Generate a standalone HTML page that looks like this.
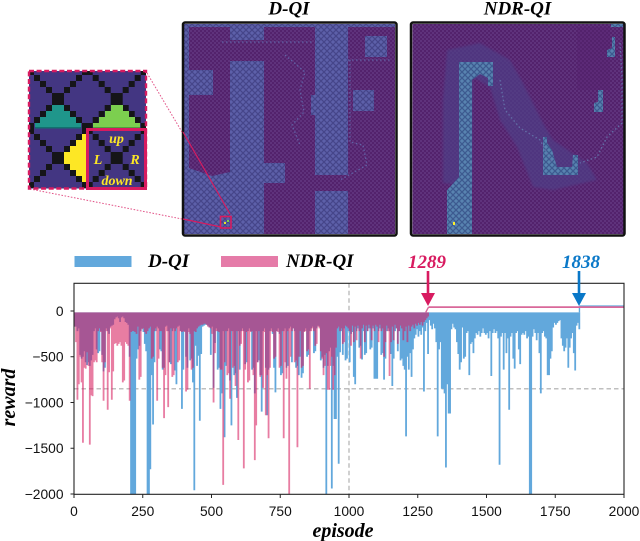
<!DOCTYPE html>
<html lang="en">
<head>
<meta charset="utf-8">
<title>D-QI vs NDR-QI</title>
<style>
html,body{margin:0;padding:0;background:#fff;width:640px;height:541px;overflow:hidden}
svg{display:block}
.lab{font-family:"Liberation Serif",serif;font-weight:bold;font-style:italic}
.tick{font-family:"Liberation Sans",sans-serif;font-size:13.8px;fill:#111}
</style>
</head>
<body>
<svg id="root" xmlns="http://www.w3.org/2000/svg" width="640" height="541" viewBox="0 0 640 541">
<defs>
<pattern id="pLight" width="6" height="6" patternUnits="userSpaceOnUse"><rect width="6" height="6" fill="#5d60a9"/><path d="M0 0L6 6M6 0L0 6" stroke="#45458a" stroke-width="1.25"/></pattern>
<pattern id="pDark" width="4" height="4" patternUnits="userSpaceOnUse"><rect width="4" height="4" fill="#53226c"/><rect width="2" height="2" fill="#5f317b"/><rect x="2" y="2" width="2" height="2" fill="#5f317b"/></pattern>
<pattern id="pMid" width="4" height="4" patternUnits="userSpaceOnUse"><rect width="4" height="4" fill="#4a3480"/><rect width="2" height="2" fill="#55468e"/><rect x="2" y="2" width="2" height="2" fill="#55468e"/></pattern>
<pattern id="pTeal" width="6" height="6" patternUnits="userSpaceOnUse"><rect width="6" height="6" fill="#5883b0"/><path d="M0 0L6 6M6 0L0 6" stroke="#3d5a90" stroke-width="1.3"/></pattern>
<clipPath id="plotClip"><rect x="74" y="283.3" width="550" height="211"/></clipPath>
<clipPath id="insetClip"><rect x="29" y="71" width="117" height="117.5"/></clipPath>
<clipPath id="hm1"><rect x="184" y="24" width="211" height="210"/></clipPath>
<clipPath id="hm2"><rect x="412.5" y="24" width="211" height="210"/></clipPath>
<filter id="soft" x="-2%" y="-2%" width="104%" height="104%"><feGaussianBlur stdDeviation="0.3"/></filter>
<filter id="softer" x="-2%" y="-2%" width="104%" height="104%"><feGaussianBlur stdDeviation="0.35"/></filter>
<filter id="halo" x="-5%" y="-5%" width="110%" height="110%"><feGaussianBlur stdDeviation="1.4"/></filter>
</defs>

<!-- Panel titles -->
<text class="lab" x="289" y="14.5" font-size="19" text-anchor="middle">D-QI</text>
<text class="lab" x="517.5" y="14.5" font-size="19" text-anchor="middle">NDR-QI</text>

<!-- D-QI heatmap -->
<g clip-path="url(#hm1)">
<g filter="url(#soft)">
  <rect x="182" y="22" width="215" height="214" fill="url(#pLight)"/>
  <path fill="url(#pDark)" d="M189 27H230V172L212 176L189 168Z"/>
  <rect x="264" y="27" width="51" height="209" fill="url(#pDark)"/>
  <rect x="230" y="40" width="34" height="21" fill="url(#pDark)"/>
  <rect x="348" y="27" width="49" height="209" fill="url(#pDark)"/>
  <rect x="315" y="175" width="33" height="16" fill="url(#pDark)"/>
  <rect x="186" y="70" width="27" height="25" fill="url(#pLight)"/>
  <rect x="264" y="163" width="21" height="20" fill="url(#pLight)"/>
  <rect x="311" y="95" width="6" height="20" fill="url(#pLight)"/>
  <rect x="365" y="36" width="22" height="21" fill="url(#pLight)"/>
  <rect x="353" y="90" width="21" height="21" fill="url(#pLight)"/>
  <path fill="none" stroke="#5f62a6" stroke-width="1.3" stroke-dasharray="1.5 2.5" d="M222 42H312M285 55L305 72L300 90L304 112L292 125L300 145M348 60H392M350 60L350 142L363 145L367 165L340 180"/>
</g>
</g>
<rect x="183" y="22.5" width="213.5" height="213" rx="2" fill="none" stroke="#111" stroke-width="2.5"/>

<!-- NDR-QI heatmap -->
<g clip-path="url(#hm2)">
<g filter="url(#soft)">
  <rect x="410" y="22" width="216" height="214" fill="url(#pDark)"/>
  <rect x="577" y="27" width="33" height="63" fill="#52226c" opacity=".3"/>
  <path filter="url(#halo)" opacity=".72" fill="url(#pMid)" d="M447 50L480 43L510 60L523 83L543 123L553 140L587 163L597 180L553 190L533 187L517 147L500 120L490 87L473 77L472 187L443 183L443 100Z"/>
  <path fill="url(#pTeal)" d="M459 62H493V86H488V78L480 74L472 80V236H447V190L459 177Z"/>
  <path fill="url(#pTeal)" d="M543 137H547V143L552 150L557 167H572L573 155H578V175H543Z"/>
  <path fill="url(#pTeal)" d="M612 37H615V57H607V50L612 48Z"/>
  <path fill="url(#pTeal)" d="M598 90H603V112H594V103L598 102Z"/>
  <rect x="611" y="23" width="12" height="4" fill="url(#pTeal)"/>
  <path fill="none" stroke="#6270a8" stroke-width="1.3" stroke-dasharray="1.5 2.5" d="M620 43L622 77L622 123L607 137L597 157L580 163M500 80L505 110L520 128L540 140L552 162"/>
  <rect x="453" y="222" width="2" height="3" fill="#fff02a"/>
</g>
</g>
<rect x="411" y="22.5" width="213.5" height="213" rx="2" fill="none" stroke="#111" stroke-width="2.5"/>

<!-- Inset -->
<g id="inset">
  <rect x="29" y="71" width="117" height="117.5" fill="#433682"/>
  <g clip-path="url(#insetClip)">
    <g id="lattice" fill="#151518"></g>
    <path fill="#1f968b" d="M52 105H64V111H70V117H76V123H81V128H35V123H40V117H46V111H52Z"/>
    <path fill="#7ccf4f" d="M111 105H123V111H129V117H135V123H140V128H93V123H99V117H105V111H111Z"/>
    <path fill="#fde725" d="M64 152H70V146H76V140H82V134H88V182H82V176H76V170H70V164H64Z"/>
    <rect x="35" y="127" width="46" height="1.5" fill="#12706f"/>
    <rect x="93" y="127" width="47" height="1.5" fill="#4f9e3f"/>
  </g>
  <rect x="29" y="71" width="117" height="117.5" fill="none" stroke="#d81b60" stroke-width="2.4" stroke-dasharray="5 2.6"/>
  <rect x="87.5" y="129.5" width="58" height="59" fill="none" stroke="#d81b60" stroke-width="3"/>
  <g class="lab" fill="#fde725" text-anchor="middle" font-size="14">
    <text x="116.5" y="143">up</text>
    <text x="98" y="164">L</text>
    <text x="135" y="164">R</text>
    <text x="117" y="185">down</text>
  </g>
</g>

<!-- Connectors -->
<g fill="none" stroke="#d81b60">
  <path d="M147 73L182 132M30 189L182 219" stroke-width="1" stroke-dasharray="1.6 1.6" opacity=".75"/>
  <path d="M183 132L230 214M183 219L221 227" stroke-width="1.2"/>
  <rect x="220.5" y="216.5" width="10.5" height="11.5" stroke-width="1.6"/>
</g>
<g><rect x="224" y="222" width="2" height="2" fill="#e8e32a"/><rect x="227" y="220" width="2" height="2" fill="#7ccf4f"/></g>

<!-- Legend -->
<g>
  <rect x="74.5" y="256" width="57" height="11" fill="#62a8dc"/>
  <text class="lab" x="148" y="267" font-size="19">D-QI</text>
  <rect x="221" y="256" width="57" height="11" fill="#e57ba8"/>
  <text class="lab" x="286" y="267" font-size="19">NDR-QI</text>
</g>

<!-- Chart -->
<g id="chart"></g>

<text class="lab" x="343" y="537" font-size="20" text-anchor="middle">episode</text>
<text class="lab" transform="translate(15 397.5) rotate(-90)" font-size="20" text-anchor="middle">reward</text>

<!-- Annotations -->
<g>
  <text class="lab" x="427" y="268" font-size="19" text-anchor="middle" fill="#d81b60">1289</text>
  <path d="M428 271V295" stroke="#d81b60" stroke-width="2.6"/>
  <path d="M421 293H435L428 306Z" fill="#d81b60"/>
</g>
<g>
  <text class="lab" x="581" y="268" font-size="19" text-anchor="middle" fill="#0a78c8">1838</text>
  <path d="M579 271V295" stroke="#0a78c8" stroke-width="2.6"/>
  <path d="M572 293H586L579 306Z" fill="#0a78c8"/>
</g>

<script>
// reward value per 5-episode bin (lowest reward reached in the bin)
var dqiRewards = [
-170,-170,-220,-190,-480,-520,-500,-440,-560,-590,-560,-600,-540,-480,-220,-190,-420,-460,-440,-220,
-480,-660,-620,-190,-220,-250,-170,-160,-150,-90,-70,-60,-80,-120,-70,-60,-80,-120,-130,-150,
-500,-2000,-2000,-2000,-2000,-520,-420,-380,-220,-190,-230,-360,-440,-2000,-2000,-1730,-700,-1240,-560,-220,
-170,-190,-420,-440,-640,-620,-170,-160,-220,-560,-580,-220,-190,-650,-800,-170,-160,-220,-1070,-640,
-220,-500,-620,-190,-540,-520,-780,-1960,-380,-600,-490,-1200,-470,-170,-160,-150,-150,-160,-180,-480,
-170,-840,-350,-190,-640,-620,-1070,-900,-220,-1380,-600,-220,-190,-760,-1250,-220,-700,-680,-950,-220,
-640,-220,-190,-220,-580,-560,-220,-190,-220,-640,-620,-900,-220,-560,-540,-700,-1100,-220,-190,-620,
-1140,-640,-220,-190,-250,-620,-890,-220,-190,-250,-700,-680,-220,-190,-620,-600,-190,-170,-560,-190,
-220,-620,-600,-700,-500,-730,-680,-220,-190,-500,-480,-220,-190,-170,-460,-440,-190,-160,-170,-540,
-500,-620,-480,-2000,-600,-440,-400,-1940,-600,-1180,-1180,-500,-1670,-450,-220,-480,-190,-540,-520,-220,
-560,-250,-230,-720,-800,-220,-190,-400,-380,-530,-220,-480,-460,-220,-190,-420,-400,-190,-740,-740,
-740,-220,-190,-480,-460,-750,-520,-220,-190,-220,-470,-820,-520,-220,-190,-440,-220,-540,-520,-600,
-640,-1370,-500,-640,-460,-720,-420,-300,-260,-200,-280,-220,-260,-180,-880,-220,-130,-470,-100,-160,
-200,-140,-190,-340,-1370,-420,-340,-850,-850,-900,-1710,-800,-1120,-1120,-200,-140,-180,-200,-340,-470,
-640,-560,-180,-520,-500,-240,-220,-700,-360,-340,-460,-300,-240,-260,-220,-280,-240,-190,-240,-260,
-240,-300,-220,-710,-240,-200,-240,-220,-300,-1680,-280,-240,-640,-240,-460,-300,-1080,-280,-240,-520,
-630,-240,-220,-420,-580,-260,-240,-260,-220,-300,-280,-2000,-2000,-280,-200,-240,-320,-240,-460,-900,
-240,-220,-280,-300,-700,-700,-520,-440,-180,-130,-150,-130,-110,-100,-300,-380,-440,-400,-300,-620,
-400,-300,-240,-460,-650,-160,-130,-200
];
var ndrRewards = [
-170,-340,-970,-800,-500,-780,-1440,-620,-630,-450,-600,-1460,-920,-930,-560,-540,-560,-220,-190,-230,
-560,-980,-560,-220,-1080,-670,-190,-970,-660,-360,-350,-380,-360,-340,-380,-780,-760,-340,-360,-380,
-980,-230,-220,-220,-230,-250,-170,-750,-720,-200,-190,-230,-250,-220,-190,-170,-520,-500,-220,-190,
-980,-520,-220,-220,-620,-1170,-700,-220,-1050,-560,-190,-720,-700,-220,-190,-560,-540,-220,-230,-220,
-230,-880,-860,-230,-250,-640,-620,-220,-230,-190,-170,-160,-150,-150,-140,-140,-150,-170,-180,-190,
-250,-1000,-460,-220,-220,-230,-640,-640,-1900,-560,-220,-700,-680,-960,-220,-620,-600,-820,-220,-1410,
-380,-360,-220,-1720,-640,-230,-780,-760,-230,-220,-700,-1630,-1250,-560,-220,-720,-700,-840,-230,-1140,
-700,-1390,-620,-220,-230,-520,-500,-220,-230,-620,-600,-220,-1390,-560,-740,-220,-2000,-500,-220,-190,
-560,-540,-1490,-500,-220,-620,-600,-230,-220,-440,-420,-850,-220,-190,-220,-380,-360,-170,-190,-440,
-520,-700,-600,-460,-860,-860,-600,-500,-860,-700,-400,-190,-170,-220,-190,-360,-340,-160,-170,-190,
-220,-380,-160,-340,-170,-320,-160,-220,-520,-190,-150,-340,-160,-220,-150,-190,-320,-160,-220,-150,
-170,-340,-150,-220,-190,-500,-340,-160,-220,-710,-340,-170,-320,-150,-190,-360,-220,-160,-190,-320,
-220,-170,-340,-160,-220,-170,-150,-190,-140,-160,-130,-150,-120,-160,-120,-100,-80,-60
];
var binSize = 5;
var upperReward = -15;
var dqiConvergedEpisode = 1838;
var ndrConvergedEpisode = 1289;
var dqiConvergedReward = 52;
var ndrConvergedReward = 42;
var xTickValues = [0, 250, 500, 750, 1000, 1250, 1500, 1750, 2000];
var yTickValues = [0, -500, -1000, -1500, -2000];
var referenceEpisode = 1000;
var referenceReward = -850;

var NS = 'http://www.w3.org/2000/svg';
function xScale(ep){ return 74 + ep * 0.275; }
function yScale(r){ return 311 - r * 0.0915; }
function make(tag, attrs, parent){
  var e = document.createElementNS(NS, tag);
  for (var k in attrs) e.setAttribute(k, attrs[k]);
  parent.appendChild(e);
  return e;
}
var chart = document.getElementById('chart');

var refH = make('line', {x1:74, x2:624, y1:yScale(referenceReward), y2:yScale(referenceReward), stroke:'#aaa', 'stroke-width':1.1, 'stroke-dasharray':'4.5 3'}, chart);


var refV = make('line', {x1:xScale(referenceEpisode), x2:xScale(referenceEpisode), y1:283.3, y2:494.3, stroke:'#aaa', 'stroke-width':1.1, 'stroke-dasharray':'4.5 3'}, chart);



function seriesPath(values){
  var d = '';
  for (var i = 0; i < values.length; i++){
    var x = xScale(i * binSize + binSize / 2).toFixed(2);
    d += 'M' + x + ' ' + yScale(upperReward).toFixed(1) + 'V' + yScale(values[i]).toFixed(1);
  }
  return d;
}
var plot = make('g', {'clip-path':'url(#plotClip)'}, chart);


var marks = make('g', {filter:'url(#softer)'}, plot);



var dqiBars = make('path', {d:seriesPath(dqiRewards), fill:'none', stroke:'#62a8dc', 'stroke-width':1.8}, marks);


var dqiEnd = make('line', {x1:xScale(dqiConvergedEpisode), x2:xScale(2000), y1:yScale(dqiConvergedReward), y2:yScale(dqiConvergedReward), stroke:'#62a8dc', 'stroke-width':1.8}, marks);


var dqiRise = make('line', {x1:xScale(dqiConvergedEpisode), x2:xScale(dqiConvergedEpisode), y1:yScale(upperReward), y2:yScale(dqiConvergedReward), stroke:'#62a8dc', 'stroke-width':1.4}, marks);



var ndrBars = make('path', {d:seriesPath(ndrRewards), fill:'none', stroke:'#d81b60', 'stroke-opacity':0.58, 'stroke-width':1.8}, marks);


var ndrEnd = make('line', {x1:xScale(ndrConvergedEpisode), x2:xScale(2000), y1:yScale(ndrConvergedReward), y2:yScale(ndrConvergedReward), stroke:'#d9689a', 'stroke-width':1.8}, marks);


var ndrRise = make('line', {x1:xScale(ndrConvergedEpisode - 10), x2:xScale(ndrConvergedEpisode), y1:yScale(upperReward), y2:yScale(ndrConvergedReward), stroke:'#d9689a', 'stroke-width':1.4}, marks);



var frame = make('rect', {x:74, y:283.3, width:550, height:211, fill:'none', stroke:'#222', 'stroke-width':1.1}, chart);



xTickValues.forEach(function(v){
  var t = make('line', {x1:xScale(v), x2:xScale(v), y1:494.3, y2:498, stroke:'#222', 'stroke-width':1}, chart);
  
  
  var l = make('text', {x:xScale(v), y:516, 'text-anchor':'middle', 'class':'tick'}, chart);
  
  
  l.textContent = String(v);
});
yTickValues.forEach(function(v){
  var t = make('line', {x1:70.5, x2:74, y1:yScale(v), y2:yScale(v), stroke:'#222', 'stroke-width':1}, chart);
  
  
  var l = make('text', {x:63.5, y:yScale(v) + 4.8, 'text-anchor':'end', 'class':'tick'}, chart);
  
  
  l.textContent = String(v).replace('-', '\u2212');
});

// Inset lattice: black staircase diagonals of the grid-world tiles
var lattice = document.getElementById('lattice');
var centres = [[58,99],[116.7,99],[58,158],[116.7,158]];
centres.forEach(function(c){
  make('rect', {x:c[0]-6, y:c[1]-6, width:12, height:12}, lattice);
  [-1,1].forEach(function(sx){
    [-1,1].forEach(function(sy){
      for (var s = 1; s <= 4; s++){
        var off = 3 + s * 6;
        make('rect', {x:c[0]+sx*off-3, y:c[1]+sy*off-3, width:6, height:6}, lattice);
      }
    });
  });
});
</script>
</svg>
</body>
</html>
